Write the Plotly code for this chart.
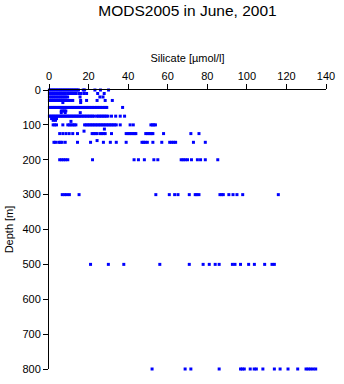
import plotly.graph_objects as go

# Silicate values (umol/l) observed at each depth (m)
si_0 = [0.2, 0.9, 1.6, 2.3, 3.0, 3.7, 4.4, 5.1, 5.8, 6.5, 7.2, 7.9, 8.6, 9.3, 10.0, 10.7, 11.4, 12.1, 12.8, 13.5, 14.2, 14.9, 17.3, 18.0, 23.2, 26.0, 30.1]
si_10 = [0.2, 0.9, 1.6, 2.3, 3.0, 3.7, 4.4, 5.1, 5.8, 7.0, 8.2, 9.4, 10.4, 11.2, 12.0, 12.8, 13.6, 15.1, 16.0, 17.6, 19.0, 24.6, 27.9]
si_20 = [0.2, 0.9, 1.6, 2.3, 3.0, 3.7, 4.4, 5.1, 5.8, 6.5, 7.2, 7.9, 8.6, 9.4, 15.7, 25.7, 27.3]
si_30 = [0.2, 0.9, 1.6, 2.3, 3.0, 3.7, 4.4, 5.1, 5.8, 6.5, 7.2, 7.9, 8.6, 9.3, 10.0, 10.9, 12.0, 16.0, 19.0, 24.3, 28.4, 32.0]
si_36 = [7.0, 16.0]
si_50 = [0.2, 0.9, 1.6, 2.3, 3.0, 3.7, 4.4, 5.1, 5.8, 6.5, 7.2, 7.9, 8.6, 9.3, 10.0, 10.7, 11.4, 12.1, 12.8, 13.5, 14.2, 14.9, 15.6, 16.3, 17.0, 17.7, 18.4, 19.1, 19.8, 20.6, 21.4, 22.2, 23.0, 23.8, 24.6, 25.4, 26.2, 27.0, 27.8, 28.6, 29.2, 37.2]
si_60 = [6.2, 7.0, 7.8, 8.5]
si_65 = [6.2, 8.2, 15.8]
si_75 = [0.2, 0.9, 1.6, 2.3, 3.0, 3.7, 4.4, 5.1, 5.8, 6.5, 7.2, 7.9, 8.6, 9.3, 10.0, 10.7, 11.4, 12.1, 12.8, 13.5, 14.2, 14.9, 15.6, 16.4, 17.2, 18.0, 18.8, 19.6, 20.4, 21.2, 22.0, 22.8, 24.1, 24.9, 25.7, 26.5, 27.3, 28.1, 28.9, 29.8, 31.6, 33.7, 36.0, 38.2]
si_82 = [1.3, 2.6, 3.8]
si_87 = [2.1, 3.3]
si_90 = [11.1]
si_100 = [2.1, 2.9, 3.8, 7.0, 9.5, 10.3, 11.1, 12.0, 12.8, 13.6, 18.0, 18.8, 19.6, 20.4, 21.2, 22.0, 22.8, 23.6, 24.4, 25.2, 26.0, 26.8, 27.6, 28.4, 29.2, 30.0, 30.8, 31.6, 32.4, 33.2, 34.0, 36.0, 41.0, 42.6, 51.5, 52.3, 53.0, 53.8]
si_112 = [28.0]
si_118 = [17.7]
si_125 = [5.4, 7.0, 8.6, 10.2, 12.0, 14.4, 21.8, 22.6, 23.4, 24.3, 25.9, 26.7, 27.6, 28.4, 31.6, 39.0, 40.0, 40.8, 41.6, 42.4, 43.2, 43.9, 48.9, 49.7, 50.5, 51.3, 52.0, 52.5, 57.9, 71.7, 75.8]
si_145 = [24.3]
si_150 = [2.5, 3.3, 4.9, 5.7, 6.6, 8.2, 14.4, 21.0, 27.5, 31.0, 34.0, 39.0, 47.0, 47.8, 48.6, 49.7, 52.5, 57.0, 61.0, 62.0, 63.0, 64.0, 73.0, 79.0]
si_200 = [5.4, 6.4, 7.4, 8.4, 9.5, 22.0, 43.0, 45.2, 48.2, 53.0, 55.0, 66.8, 67.8, 68.8, 70.0, 72.0, 75.0, 76.6, 79.0, 85.3]
si_300 = [6.7, 7.9, 9.0, 10.3, 15.2, 54.0, 60.8, 63.5, 65.2, 70.9, 73.9, 74.7, 75.8, 86.4, 87.3, 88.1, 90.9, 93.0, 95.0, 97.9, 115.9]
si_500 = [21.0, 30.0, 37.8, 56.0, 70.9, 77.9, 81.0, 84.0, 86.0, 92.7, 94.0, 96.8, 100.9, 103.8, 109.0, 112.7, 113.9]
si_800 = [52.1, 68.8, 71.7, 86.0, 96.8, 97.7, 98.7, 101.7, 103.7, 104.8, 108.1, 113.9, 116.8, 120.8, 125.7, 129.9, 131.0, 132.2, 133.5, 134.8]

depths = [0, 10, 20, 30, 36, 50, 60, 65, 75, 82, 87, 90, 100, 112, 118, 125, 145, 150, 200, 300, 500, 800]
silicate = [si_0, si_10, si_20, si_30, si_36, si_50, si_60, si_65, si_75, si_82, si_87, si_90,
            si_100, si_112, si_118, si_125, si_145, si_150, si_200, si_300, si_500, si_800]

xs, ys = [], []
for d, vals in zip(depths, silicate):
    xs.extend(vals)
    ys.extend([d] * len(vals))

fig = go.Figure(go.Scatter(
    x=xs, y=ys, mode="markers",
    marker=dict(symbol="square", size=3, color="#0000ff", line=dict(width=0)),
    cliponaxis=False, hoverinfo="skip",
))

font = "Liberation Sans, Arial, Helvetica, sans-serif"
fig.update_layout(
    width=344, height=384,
    margin=dict(l=47, r=12, t=90, b=9),
    paper_bgcolor="white", plot_bgcolor="white",
    showlegend=False,
    font=dict(family=font, size=11, color="black"),
    title=dict(text="MODS2005 in June, 2001", x=0.5, xref="paper", y=1 - 11 / 384,
               yref="container", yanchor="middle", font=dict(size=15.5, family=font, color="black")),
    xaxis=dict(
        side="top", range=[0, 140], dtick=20, tick0=0,
        ticks="outside", ticklen=5, tickcolor="black", tickwidth=1,
        showline=True, linecolor="black", linewidth=1,
        showgrid=False, zeroline=False,
        tickfont=dict(size=11),
        title=dict(text="Silicate [µmol/l]", font=dict(size=11), standoff=4),
    ),
    yaxis=dict(
        range=[800, 0], dtick=100, tick0=0,
        ticks="outside", ticklen=5, tickcolor="black", tickwidth=1,
        showline=True, linecolor="black", linewidth=1,
        showgrid=False, zeroline=False,
        tickfont=dict(size=11),
        title=dict(text="Depth [m]", font=dict(size=11), standoff=6),
    ),
)

fig.write_html("out.html")
